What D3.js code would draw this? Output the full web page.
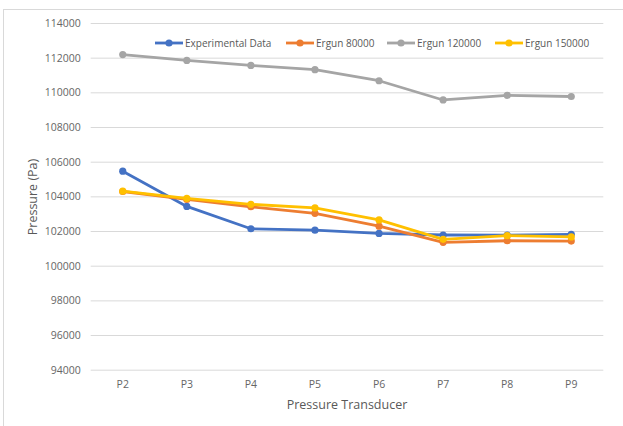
<!DOCTYPE html>
<html>
<head>
<meta charset="utf-8">
<script src="https://cdn.jsdelivr.net/npm/d3@7"></script>
<style>
  html, body { margin: 0; padding: 0; background: #fff; }
  svg { display: block; font-family: "Open Sans", sans-serif; }
</style>
</head>
<body>
<svg id="chart" width="623" height="426"></svg>
<script>
// Pressure readings along the transducers
const transducers = ["P2", "P3", "P4", "P5", "P6", "P7", "P8", "P9"];
const experimental = [105450, 103420, 102130, 102050, 101860, 101770, 101760, 101810];
const ergun80000   = [104280, 103820, 103400, 103020, 102280, 101350, 101440, 101420];
const ergun120000  = [112180, 111840, 111550, 111310, 110670, 109560, 109830, 109760];
const ergun150000  = [104300, 103880, 103540, 103330, 102640, 101520, 101730, 101660];
const yTicks = [94000, 96000, 98000, 100000, 102000, 104000, 106000, 108000, 110000, 112000, 114000];

const seriesNames  = ["Experimental Data", "Ergun 80000", "Ergun 120000", "Ergun 150000"];
const seriesValues = [experimental, ergun80000, ergun120000, ergun150000];
const seriesColors = ["#4472C4", "#ED7D31", "#A5A5A5", "#FFC000"];

const series = seriesNames.map((name, i) => ({
  name, color: seriesColors[i],
  points: transducers.map((t, j) => ({ t, v: seriesValues[i][j] }))
}));

const svg = d3.select("#chart");
const plot = { left: 90.7, right: 603.3, top: 23, bottom: 369.7 };

// chart area frame
svg.append("rect")
  .attr("x", 3.5).attr("y", 9.5).attr("width", 640).attr("height", 430)
  .attr("fill", "none").attr("stroke", "#D9D9D9").attr("stroke-width", 1);

const x = d3.scaleBand().domain(transducers).range([plot.left, plot.right]);
const y = d3.scaleLinear().domain([94000, 114000]).range([plot.bottom, plot.top]);
const cx = t => x(t) + x.bandwidth() / 2;

// horizontal gridlines with value labels
const yAxis = svg.append("g")
  .attr("transform", `translate(${plot.left},0)`)
  .call(d3.axisLeft(y).tickValues(yTicks).tickSize(-(plot.right - plot.left)).tickPadding(10)
    .tickFormat(d3.format("d")));
yAxis.select(".domain").remove();
yAxis.selectAll(".tick line").attr("stroke", "#D9D9D9").attr("stroke-width", 1);
yAxis.selectAll(".tick text").attr("fill", "#666").style("font-size", "10.5px")
  .attr("font-family", "Open Sans, sans-serif");

// category labels
const xAxis = svg.append("g")
  .attr("transform", `translate(0,${plot.bottom})`)
  .call(d3.axisBottom(x).tickSize(0).tickPadding(11));
xAxis.select(".domain").remove();
xAxis.selectAll(".tick text").attr("fill", "#666").style("font-size", "10.5px")
  .attr("font-family", "Open Sans, sans-serif");

// axis titles
svg.append("text")
  .attr("x", 347).attr("y", 409)
  .attr("text-anchor", "middle").attr("fill", "#595959")
  .style("font-size", "12.5px").text("Pressure Transducer");
svg.append("text")
  .attr("transform", "translate(36.5,197) rotate(-90)")
  .attr("text-anchor", "middle").attr("fill", "#595959")
  .style("font-size", "12.5px").text("Pressure (Pa)");

// series lines and markers
const line = d3.line().x(d => cx(d.t)).y(d => y(d.v));
series.forEach(s => {
  const g = svg.append("g");
  g.append("path").datum(s.points)
    .attr("d", line).attr("fill", "none")
    .attr("stroke", s.color).attr("stroke-width", 2.8)
    .attr("stroke-linejoin", "round").attr("stroke-linecap", "round");
  g.selectAll("circle").data(s.points).join("circle")
    .attr("cx", d => cx(d.t)).attr("cy", d => y(d.v)).attr("r", 3.6)
    .attr("fill", s.color);
});

// legend
const legendX = [155, 286, 387, 495];
const legend = svg.append("g").attr("transform", "translate(0,43)");
series.forEach((s, i) => {
  const g = legend.append("g").attr("transform", `translate(${legendX[i]},0)`);
  g.append("line").attr("x1", 0).attr("x2", 28).attr("y1", 0).attr("y2", 0)
    .attr("stroke", s.color).attr("stroke-width", 2.8);
  g.append("circle").attr("cx", 14).attr("cy", 0).attr("r", 3.6).attr("fill", s.color);
  g.append("text").attr("x", 30).attr("y", 0).attr("dy", "0.35em")
    .attr("fill", "#595959").style("font-size", "10px").text(s.name);
});
</script>
</body>
</html>
